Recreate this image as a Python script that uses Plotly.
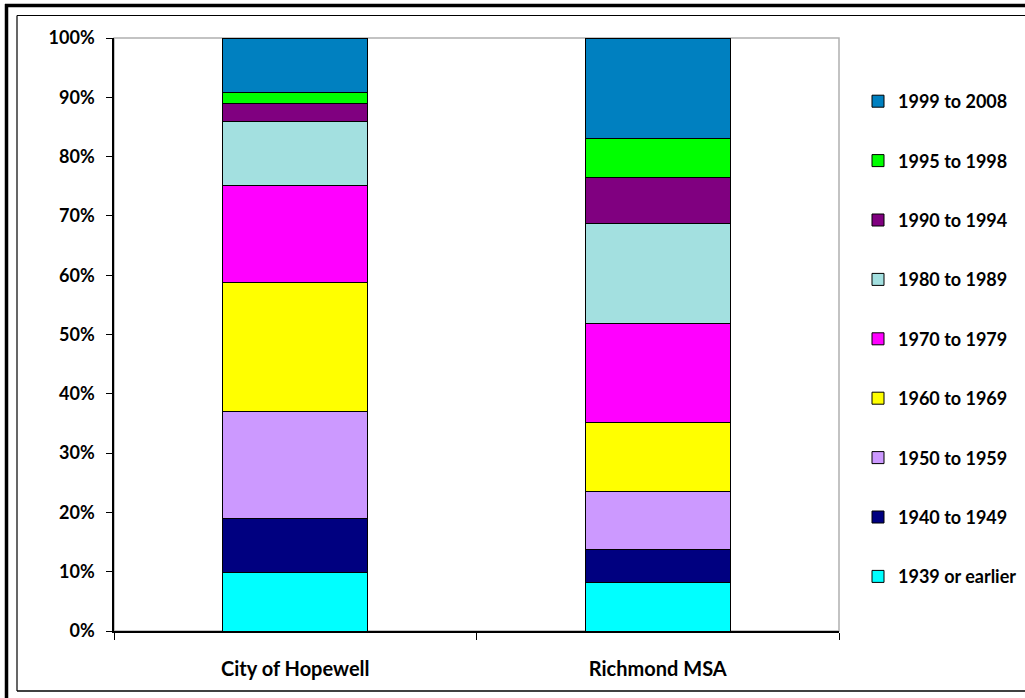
import plotly.graph_objects as go

# Housing stock by year built, share of units (percent)
areas = ["City of Hopewell", "Richmond MSA"]
periods = [
    "1939 or earlier", "1940 to 1949", "1950 to 1959", "1960 to 1969",
    "1970 to 1979", "1980 to 1989", "1990 to 1994", "1995 to 1998",
    "1999 to 2008",
]
hopewell = [9.8, 9.1, 18.2, 21.6, 16.5, 10.7, 3.1, 1.8, 9.2]
richmond = [8.2, 5.6, 9.7, 11.6, 16.7, 17.0, 7.6, 6.6, 17.0]
colors = [
    "#00FFFF", "#000080", "#CC99FF", "#FFFF00", "#FF00FF",
    "#A3E0E0", "#800080", "#00FF00", "#0080C0",
]
y_ticks = list(range(0, 101, 10))
y_tick_text = [f"{v}%" for v in y_ticks]

W, H = 1025, 698
M_L, M_R, M_T, M_B = 114, 186, 38, 67
PW, PH = W - M_L - M_R, H - M_T - M_B

def px(x):
    return (x - M_L) / PW

def py(y):
    return 1 - (y - M_T) / PH

FONT = dict(family="Lato, Arial, sans-serif", size=18, color="black", weight="bold")
XFONT = dict(FONT, size=20)

fig = go.Figure()
n = len(periods)
for i, name in enumerate(periods):
    fig.add_trace(go.Bar(
        x=areas,
        y=[hopewell[i], richmond[i]],
        name=name,
        legendgroup=name,
        legendrank=n - i,
        marker=dict(color=colors[i], line=dict(color="black", width=1)),
    ))

shapes = [
    # plot-area frame (top and right edges)
    dict(type="rect", xref="paper", yref="paper", x0=0, x1=1, y0=0, y1=1,
         line=dict(color="#B0B0B0", width=1.5), layer="below"),
    # chart border
    dict(type="line", xref="paper", yref="paper",
         x0=px(17), x1=px(17), y0=py(15.5), y1=py(691),
         line=dict(color="black", width=1.2)),
    dict(type="line", xref="paper", yref="paper",
         x0=px(17), x1=px(1030), y0=py(15.5), y1=py(15.5),
         line=dict(color="black", width=1.2)),
    dict(type="line", xref="paper", yref="paper",
         x0=px(17), x1=px(1030), y0=py(691), y1=py(691),
         line=dict(color="black", width=1.5)),
    # outer heavy frame
    dict(type="line", xref="paper", yref="paper",
         x0=px(6.5), x1=px(6.5), y0=py(4), y1=py(710),
         line=dict(color="black", width=3.5)),
    dict(type="line", xref="paper", yref="paper",
         x0=px(5), x1=px(1030), y0=py(5.5), y1=py(5.5),
         line=dict(color="black", width=3.5)),
]

fig.update_layout(
    width=W, height=H,
    margin=dict(l=M_L, r=M_R, t=M_T, b=M_B, autoexpand=False),
    barmode="stack",
    bargap=0.6,
    plot_bgcolor="white",
    paper_bgcolor="white",
    font=FONT,
    showlegend=True,
    legend=dict(
        x=px(858), xanchor="left", y=py(83), yanchor="top",
        traceorder="grouped",
        tracegroupgap=33,
        font=FONT,
        bgcolor="rgba(0,0,0,0)",
    ),
    shapes=shapes,
    xaxis=dict(
        showline=True, linecolor="black", linewidth=1.5,
        ticks="outside", ticklen=7, tickcolor="black", tickwidth=1,
        tickson="boundaries",
        ticklabelstandoff=19,
        showgrid=False, zeroline=False,
        tickfont=XFONT,
    ),
    yaxis=dict(
        range=[0, 100],
        tickvals=y_ticks, ticktext=y_tick_text,
        showline=True, linecolor="black", linewidth=1.5,
        ticks="outside", ticklen=6, tickcolor="black", tickwidth=1,
        ticklabelstandoff=8,
        showgrid=False, zeroline=False,
        tickfont=FONT,
    ),
)

fig.write_html("out.html")
